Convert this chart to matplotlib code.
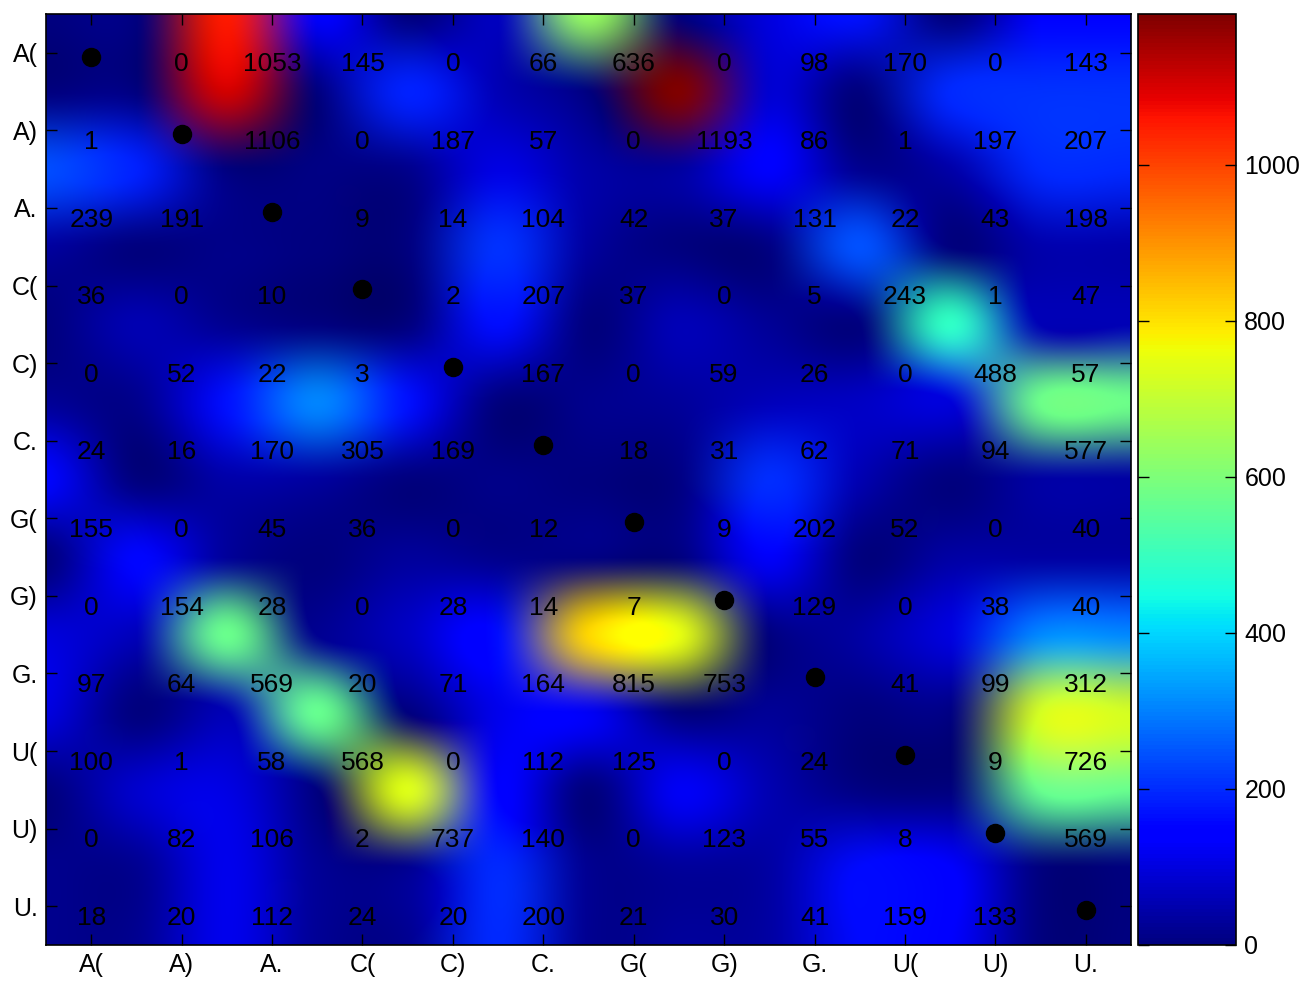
import numpy as np
import matplotlib
matplotlib.use("Agg")
import matplotlib.pyplot as plt
from matplotlib import cm
from matplotlib.colors import Normalize

plt.rcParams['font.family'] = ['Liberation Sans', 'DejaVu Sans']

labels = ["A(", "A)", "A.", "C(", "C)", "C.", "G(", "G)", "G.", "U(", "U)", "U."]

# None marks the diagonal (drawn as a black dot)
row_A_open  = [None, 0, 1053, 145, 0, 66, 636, 0, 98, 170, 0, 143]
row_A_close = [1, None, 1106, 0, 187, 57, 0, 1193, 86, 1, 197, 207]
row_A_dot   = [239, 191, None, 9, 14, 104, 42, 37, 131, 22, 43, 198]
row_C_open  = [36, 0, 10, None, 2, 207, 37, 0, 5, 243, 1, 47]
row_C_close = [0, 52, 22, 3, None, 167, 0, 59, 26, 0, 488, 57]
row_C_dot   = [24, 16, 170, 305, 169, None, 18, 31, 62, 71, 94, 577]
row_G_open  = [155, 0, 45, 36, 0, 12, None, 9, 202, 52, 0, 40]
row_G_close = [0, 154, 28, 0, 28, 14, 7, None, 129, 0, 38, 40]
row_G_dot   = [97, 64, 569, 20, 71, 164, 815, 753, None, 41, 99, 312]
row_U_open  = [100, 1, 58, 568, 0, 112, 125, 0, 24, None, 9, 726]
row_U_close = [0, 82, 106, 2, 737, 140, 0, 123, 55, 8, None, 569]
row_U_dot   = [18, 20, 112, 24, 20, 200, 21, 30, 41, 159, 133, None]

rows = [row_A_open, row_A_close, row_A_dot, row_C_open, row_C_close, row_C_dot,
        row_G_open, row_G_close, row_G_dot, row_U_open, row_U_close, row_U_dot]

cbar_ticks = [0, 200, 400, 600, 800, 1000]

n = len(labels)
M = np.array([[0 if v is None else v for v in r] for r in rows], dtype=float)
vmax = M.max()
norm = Normalize(0, vmax)
cmap = matplotlib.colormaps['jet']

# colour each cell, then smooth the RGB picture with cubic (Keys) interpolation
rgb = cmap(norm(M))[:, :, :3]


def keys(t, a=-0.5):
    t = np.abs(t)
    w = np.zeros_like(t)
    m1 = t <= 1
    m2 = (t > 1) & (t < 2)
    w[m1] = (a + 2) * t[m1] ** 3 - (a + 3) * t[m1] ** 2 + 1
    w[m2] = a * t[m2] ** 3 - 5 * a * t[m2] ** 2 + 8 * a * t[m2] - 4 * a
    return w


def weights(n_in, coords):
    # coords: sample positions in input-pixel index units (pixel k centred at k)
    W = np.zeros((len(coords), n_in))
    for o, c in enumerate(coords):
        k0 = int(np.floor(c))
        for k in range(k0 - 1, k0 + 3):
            kk = min(max(k, 0), n_in - 1)
            W[o, kk] += keys(np.array([c - k]))[0]
    return W


F = 60
# the heat of cell (i, j) sits at (j - 0.5, i - 0.5); axes span -0.5 .. n-0.5
xs = np.linspace(-0.5, n - 0.5, n * F + 1)
xs = 0.5 * (xs[:-1] + xs[1:])
coords = xs + 0.5          # input pixel index
W = weights(n, coords)
smooth = np.stack([W @ rgb[:, :, c] @ W.T for c in range(3)], axis=-1)
smooth = np.clip(smooth, 0, 1)

fig = plt.figure(figsize=(13.04, 9.82), dpi=100)
ax = fig.add_axes([46/1304, 37/982, 1085/1304, 931/982])
ax.imshow(smooth, extent=(-0.5, n - 0.5, n - 0.5, -0.5), interpolation='bilinear', aspect='auto')
ax.set_xlim(-0.5, n - 0.5)
ax.set_ylim(n - 0.5, -0.5)

for i, r in enumerate(rows):
    for j, v in enumerate(r):
        if v is None:
            ax.plot(j, i + 0.05, 'o', color='black', ms=13)
        else:
            ax.text(j, i + 0.15, str(v), ha='center', va='center', fontsize=19, color='black')

ax.set_xticks(range(n))
ax.set_yticks(range(n))
ax.set_xticklabels(labels, fontsize=18)
ax.set_yticklabels(labels, fontsize=18)
ax.tick_params(direction='in', length=8, width=1, top=True, right=True, pad=6)
for s in ax.spines.values():
    s.set_linewidth(1.2)

cax = fig.add_axes([1138/1304, 37/982, 98/1304, 931/982])
sm = cm.ScalarMappable(norm=norm, cmap=cmap)
cb = fig.colorbar(sm, cax=cax, ticks=cbar_ticks)
cb.outline.set_linewidth(1.2)
cax.tick_params(direction='in', length=8, width=1, left=True, right=True, labelsize=18, pad=6)

fig.savefig("out.png", dpi=100)
